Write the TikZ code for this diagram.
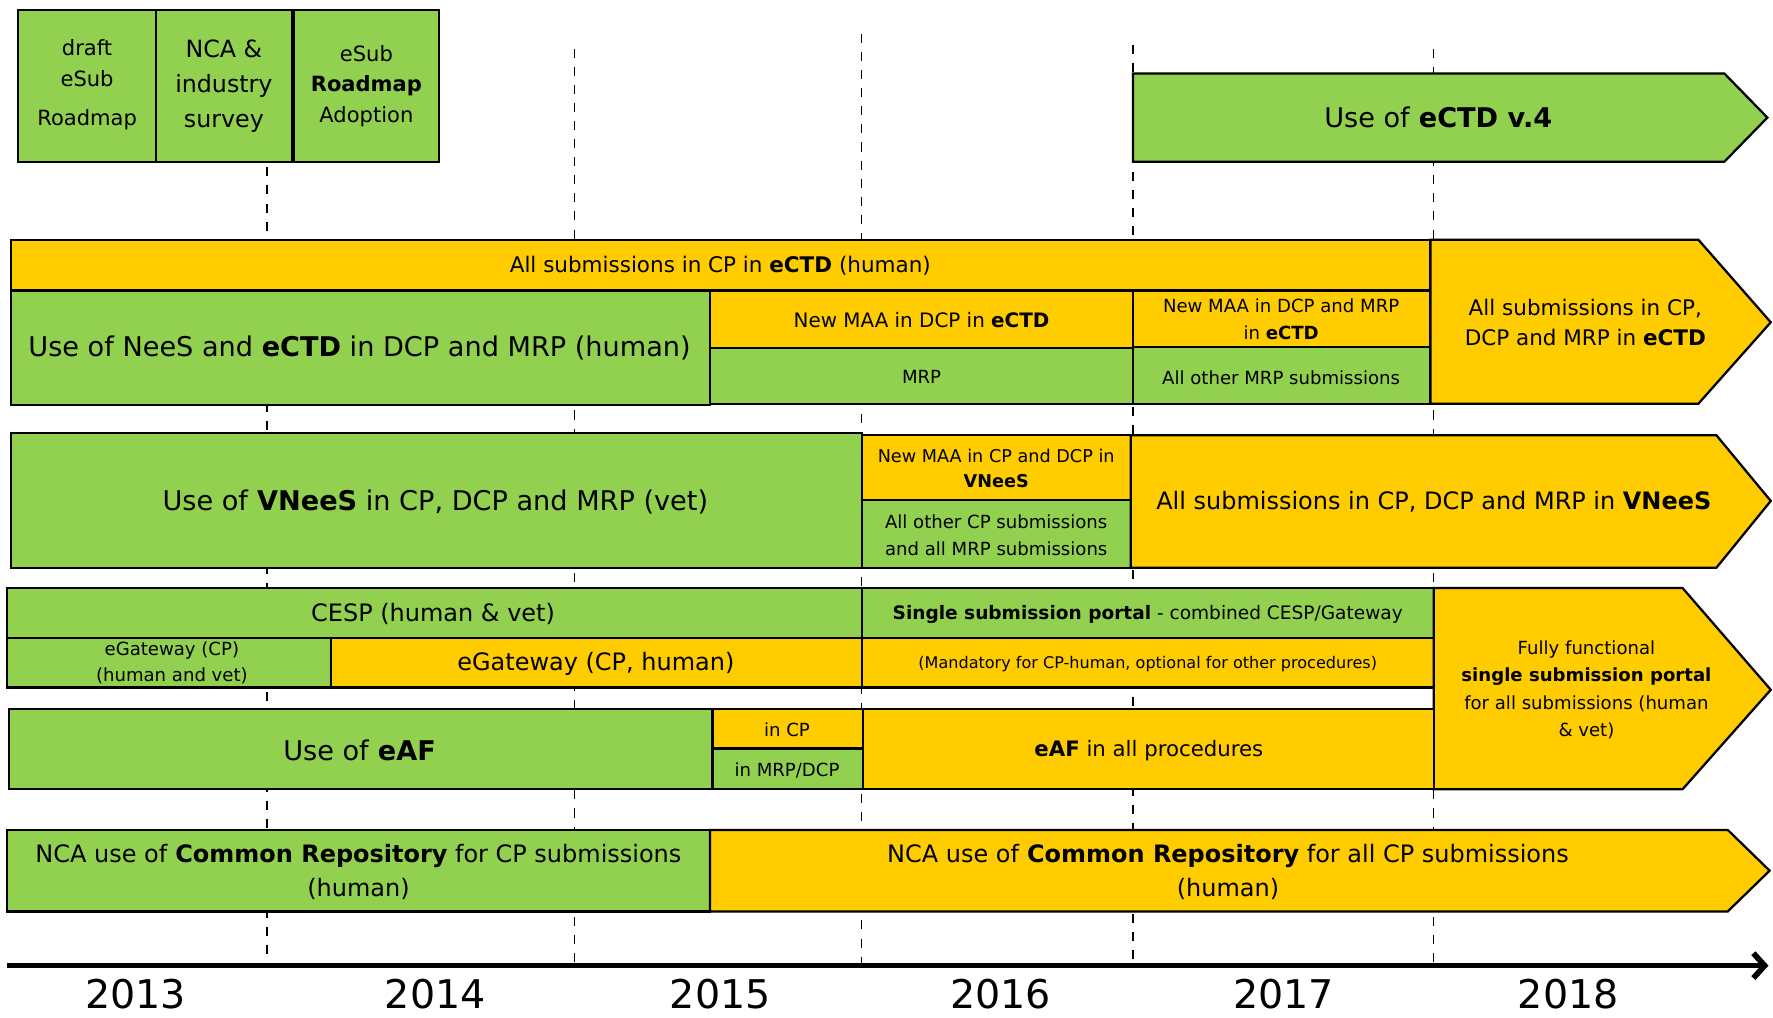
\documentclass[tikz,border=0pt]{standalone}
\usepackage{fontspec}
\setmainfont{DejaVu Sans}
\usepackage{xcolor}
\usetikzlibrary{arrows.meta}
\definecolor{grn}{HTML}{92D050}
\definecolor{ylw}{HTML}{FFCC00}

\begin{document}
\begin{tikzpicture}[x=0.5pt, y=-0.5pt,
    gbox/.style={draw=black, line width=1pt, fill=grn},
    ybox/.style={draw=black, line width=1pt, fill=ylw},
    yearline/.style={dashed, line width=0.6pt, dash pattern=on 4pt off 4pt},
    axis/.style={line width=2.5pt, -{Straight Barb[length=5pt, width=11pt]}},
    tbig/.style={font=\fontsize{12}{15}\selectfont, align=center},
    tmid/.style={font=\fontsize{9.5}{13.5}\selectfont, align=center},
    tsml/.style={font=\fontsize{8}{12}\selectfont, align=center},
    tyear/.style={font=\fontsize{17.5}{21}\selectfont, inner sep=0pt}]
    \useasboundingbox (0,0) rectangle (1568,900);

    % year boundaries
    \draw[yearline] (236,148) -- (236,853);
    \draw[yearline] (508,43) -- (508,853);
    \draw[yearline] (762,30) -- (762,853);
    \draw[yearline] (1002,40) -- (1002,853);
    \draw[yearline] (1268,43) -- (1268,853);

    % roadmap
    \draw[gbox] (16,9) rectangle (138,143);
    \draw[gbox] (138,9) rectangle (258,143);
    \draw[gbox] (260,9) rectangle (388,143);
    \node[font=\fontsize{9.3}{13.5}\selectfont, align=center] (draft) at (77,75) {draft\\eSub\\[4pt]Roadmap};
    \node[font=\fontsize{10.5}{15.5}\selectfont, align=center] (survey) at (198,76) {NCA \&\\industry\\survey};
    \node[font=\fontsize{9.3}{13.5}\selectfont, align=center] (adopt) at (324,76) {eSub\\\textbf{Roadmap}\\Adoption};

    % eCTD v.4
    \draw[gbox] (1002,65) -- (1525,65) -- (1563,104) -- (1525,143) -- (1002,143) -- cycle;
    \node[tbig] (v4) at (1272,104) {Use of \textbf{eCTD v.4}};

    % eCTD (human)
    \draw[ybox] (10,212) rectangle (1265,257);
    \draw[gbox] (10,257) rectangle (628,358);
    \draw[ybox] (628,257) rectangle (1002,308);
    \draw[gbox] (628,308) rectangle (1002,357);
    \draw[ybox] (1002,257) rectangle (1265,307);
    \draw[gbox] (1002,307) rectangle (1265,357);
    \draw[ybox] (1265,212) -- (1502,212) -- (1566,285) -- (1502,357) -- (1265,357) -- cycle;
    \node[tmid] (cpall) at (637,235) {All submissions in CP in \textbf{eCTD} (human)};
    \node[tbig] (nees) at (318,308) {Use of NeeS and \textbf{eCTD} in DCP and MRP (human)};
    \node[font=\fontsize{8.8}{12}\selectfont] (maadcp) at (815,283) {New MAA in DCP in \textbf{eCTD}};
    \node[tsml] (mrp) at (815,333) {MRP};
    \node[tsml] (maamrp) at (1133,282) {New MAA in DCP and MRP\\in \textbf{eCTD}};
    \node[tsml] (othmrp) at (1133,334) {All other MRP submissions};
    \node[tmid] (allctd) at (1402,285) {All submissions in CP,\\DCP and MRP in \textbf{eCTD}};

    % VNeeS (vet)
    \draw[gbox] (10,383) rectangle (762,502);
    \draw[ybox] (762,385) rectangle (1000,442);
    \draw[gbox] (762,442) rectangle (1000,502);
    \draw[ybox] (1000,385) -- (1518,385) -- (1566,443) -- (1518,502) -- (1000,502) -- cycle;
    \node[tbig] (vnees) at (385,444) {Use of \textbf{VNeeS} in CP, DCP and MRP (vet)};
    \node[font=\fontsize{7.8}{11}\selectfont, align=center] (maavet) at (881,414) {New MAA in CP and DCP in\\\textbf{VNeeS}};
    \node[tsml] (othvet) at (881,473) {All other CP submissions\\and all MRP submissions};
    \node[font=\fontsize{10.6}{14}\selectfont] (allvet) at (1268,444) {All submissions in CP, DCP and MRP in \textbf{VNeeS}};

    % portal
    \draw[gbox] (6,520) rectangle (762,564);
    \draw[gbox] (6,564) rectangle (293,608);
    \draw[ybox] (293,564) rectangle (762,608);
    \draw[gbox] (762,520) rectangle (1268,564);
    \draw[ybox] (762,564) rectangle (1268,608);
    \draw[ybox] (1268,520) -- (1488,520) -- (1566,610) -- (1488,698) -- (1268,698) -- cycle;
    \node[font=\fontsize{10.6}{14}\selectfont] (cesp) at (383,543) {CESP (human \& vet)};
    \node[font=\fontsize{8}{11.5}\selectfont, align=center] (egwold) at (152,586) {eGateway (CP)\\(human and vet)};
    \node[font=\fontsize{10.6}{14}\selectfont] (egw) at (527,587) {eGateway (CP, human)};
    \node[font=\fontsize{8.2}{12}\selectfont] (ssp) at (1015,543) {\textbf{Single submission portal} - combined CESP/Gateway};
    \node[font=\fontsize{7.1}{10}\selectfont] (mand) at (1015,587) {(Mandatory for CP-human, optional for other procedures)};
    \node[tsml] (fullssp) at (1403,610) {Fully functional\\\textbf{single submission portal}\\for all submissions (human\\\& vet)};

    % eAF
    \draw[gbox] (8,627) rectangle (630,698);
    \draw[ybox] (630,627) rectangle (763,662);
    \draw[gbox] (630,662) rectangle (763,698);
    \draw[ybox] (763,627) rectangle (1268,698);
    \node[tbig] (eaf) at (318,664) {Use of \textbf{eAF}};
    \node[tsml] (eafcp) at (696,645) {in CP};
    \node[tsml] (eafmrp) at (696,681) {in MRP/DCP};
    \node[font=\fontsize{9.4}{12}\selectfont] (eafall) at (1016,664) {\textbf{eAF} in all procedures};

    % Common Repository
    \draw[gbox] (6,734) rectangle (628,806);
    \draw[ybox] (628,734) -- (1528,734) -- (1565,770) -- (1528,806) -- (628,806) -- cycle;
    \node[font=\fontsize{10.6}{15}\selectfont, align=center] (crcp) at (317,771) {NCA use of \textbf{Common Repository} for CP submissions\\(human)};
    \node[font=\fontsize{10.6}{15}\selectfont, align=center] (crall) at (1086,771) {NCA use of \textbf{Common Repository} for all CP submissions\\(human)};

    % time axis
    \coordinate (t0) at (6,854);
    \coordinate (t1) at (1564,854);
    \draw[axis] (t0) -- (t1);
    \node[tyear] (y13) at (120,879) {2013};
    \node[tyear] (y14) at (385,879) {2014};
    \node[tyear] (y15) at (637,879) {2015};
    \node[tyear] (y16) at (885,879) {2016};
    \node[tyear] (y17) at (1135,879) {2017};
    \node[tyear] (y18) at (1387,879) {2018};
\end{tikzpicture}
\end{document}
